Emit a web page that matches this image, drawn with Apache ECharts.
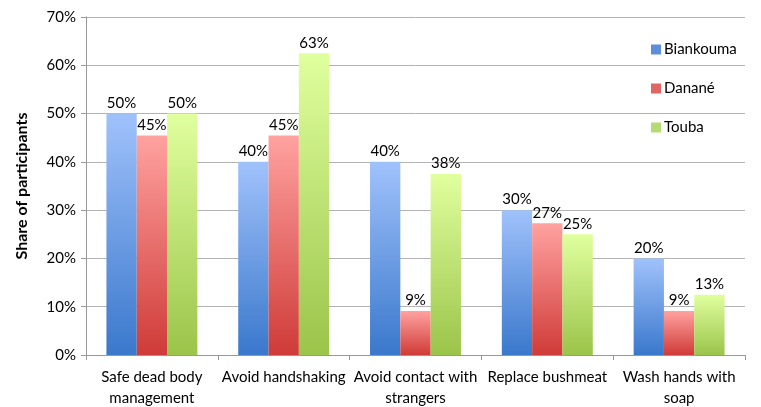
<!DOCTYPE html>
<html>
<head>
<meta charset="utf-8">
<script src="https://cdn.jsdelivr.net/npm/echarts@6/dist/echarts.min.js"></script>
<style>
  html, body { margin: 0; padding: 0; background: #fff; }
  #chart { width: 761px; height: 407px; }
</style>
</head>
<body>
<div id="chart"></div>
<script>
// categories and values (percent of participants)
var categories = ['Safe dead body\nmanagement', 'Avoid handshaking', 'Avoid contact with\nstrangers', 'Replace bushmeat', 'Wash hands with\nsoap']
var biankouma = [50, 40, 40, 30, 20]
var danane = [45.45, 45.45, 9.09, 27.27, 9.09]
var touba = [50, 62.5, 37.5, 25, 12.5]
var seriesNames = ['Biankouma', 'Danané', 'Touba']

var font = 'Lato, "Open Sans", sans-serif'

function grad (top, bottom) {
  return new echarts.graphic.LinearGradient(0, 0, 0, 1, [
    { offset: 0, color: top },
    { offset: 1, color: bottom }
  ])
}

var colors = [
  grad('#a0c2fb', '#3a78cc'),
  grad('#ffa2a0', '#cf3b38'),
  grad('#e0ff9e', '#9bc44a')
]
var legendColors = ['#5b8fdc', '#e06563', '#b5dc74']

function makeSeries (name, data, i) {
  return {
    name: name,
    type: 'bar',
    data: data,
    barGap: '0%',
    barCategoryGap: '31%',
    itemStyle: { color: colors[i] },
    label: {
      show: true,
      position: 'top',
      distance: 3,
      color: '#000',
      fontFamily: font,
      fontSize: 15,
      formatter: function (p) { return Math.round(p.value) + '%' }
    }
  }
}

var chart = echarts.init(document.getElementById('chart'))
chart.setOption({
  animation: false,
  color: legendColors,
  grid: { left: 86, right: 16, top: 17, bottom: 52, outerBoundsMode: 'none', containLabel: false },
  legend: {
    orient: 'vertical',
    left: 651,
    top: 42,
    itemGap: 24,
    itemWidth: 10,
    itemHeight: 10,
    icon: 'rect',
    padding: [0, 0, 0, 0],
    textStyle: { fontFamily: font, fontSize: 15, color: '#000', padding: [0, 0, 0, -2] },
    data: seriesNames.map(function (n, i) {
      return { name: n, itemStyle: { color: legendColors[i] } }
    })
  },
  xAxis: {
    type: 'category',
    data: categories,
    axisLine: { lineStyle: { color: '#999' } },
    axisTick: { show: true, length: 5, lineStyle: { color: '#999' } },
    axisLabel: {
      interval: 0,
      color: '#000',
      fontFamily: font,
      fontSize: 15,
      lineHeight: 21,
      margin: 12
    }
  },
  yAxis: {
    type: 'value',
    min: 0,
    max: 70,
    interval: 10,
    name: 'Share of participants',
    nameLocation: 'middle',
    nameGap: 56,
    nameTextStyle: { fontFamily: font, fontSize: 16, fontWeight: 'bold', color: '#000' },
    axisLine: { show: true, lineStyle: { color: '#999' } },
    axisTick: { show: true, length: 5, lineStyle: { color: '#999' } },
    splitLine: { lineStyle: { color: '#b3b3b3' } },
    axisLabel: {
      color: '#000',
      fontFamily: font,
      fontSize: 15,
      margin: 10,
      formatter: '{value}%'
    }
  },
  series: [
    makeSeries(seriesNames[0], biankouma, 0),
    makeSeries(seriesNames[1], danane, 1),
    makeSeries(seriesNames[2], touba, 2)
  ]
})
</script>
</body>
</html>
